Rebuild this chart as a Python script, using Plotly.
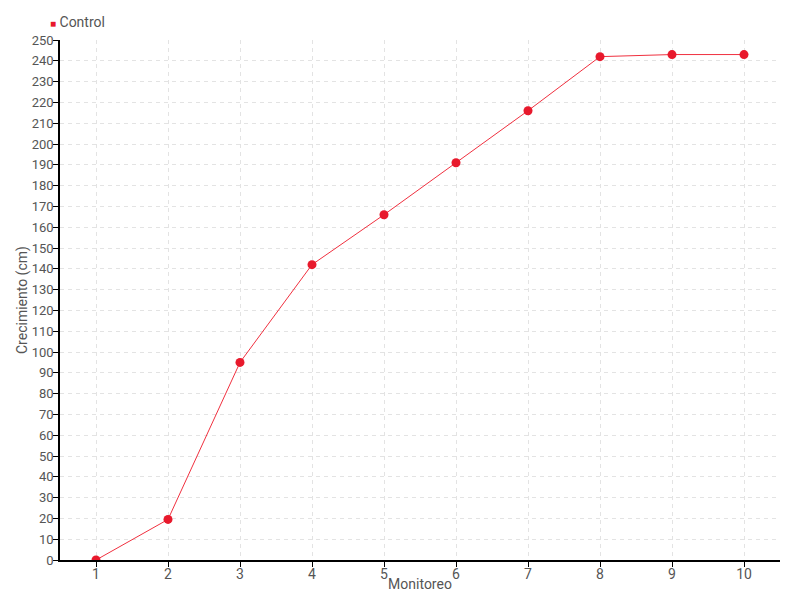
import plotly.graph_objects as go

categories = ["1", "2", "3", "4", "5", "6", "7", "8", "9", "10"]
control = [0, 19.5, 95, 142, 166, 191, 216, 242, 243, 243]
y_ticks = list(range(0, 251, 10))

font_family = "Roboto, sans-serif"
text_color = "#555555"
red = "#e8192c"

fig = go.Figure()
fig.add_trace(go.Scatter(
    x=categories, y=control, mode="lines+markers", name="Control",
    line=dict(color="#f0303f", width=1),
    marker=dict(color=red, size=9, symbol="circle"),
    showlegend=False,
))

fig.add_annotation(
    xref="paper", yref="paper", x=-0.017, y=1.0, xanchor="left", yanchor="bottom",
    yshift=8, showarrow=False,
    text=f"<span style='color:{red};font-size:10px'>■</span> Control",
    font=dict(family=font_family, size=14, color=text_color),
)
fig.add_annotation(
    xref="paper", yref="paper", x=0, y=0.5, xanchor="center", yanchor="middle",
    xshift=-38, textangle=-90, showarrow=False,
    text="Crecimiento (cm)",
    font=dict(family=font_family, size=14, color=text_color),
)

grid = dict(showgrid=True, gridcolor="#e3e3e3", griddash="4px,4px", gridwidth=1)

fig.update_layout(
    width=784, height=584,
    margin=dict(l=52, r=12, t=32, b=32),
    plot_bgcolor="white", paper_bgcolor="white",
    font=dict(family=font_family, size=14, color=text_color),
    xaxis=dict(
        type="category", title=dict(text="Monitoreo", standoff=0, font=dict(size=14)),
        automargin=False, ticklabelstandoff=-5,
        showline=True, linecolor="black", linewidth=1.5,
        ticks="outside", ticklen=5, tickcolor="black",
        range=[-0.5, 9.5], zeroline=False, **grid,
    ),
    yaxis=dict(
        automargin=False, ticklabelstandoff=-3,
        range=[0, 250], tickvals=y_ticks, tickfont=dict(size=13),
        showline=True, linecolor="black", linewidth=1.5,
        ticks="outside", ticklen=5, tickcolor="black",
        zeroline=False, **grid,
    ),
)
fig.write_html("out.html")
